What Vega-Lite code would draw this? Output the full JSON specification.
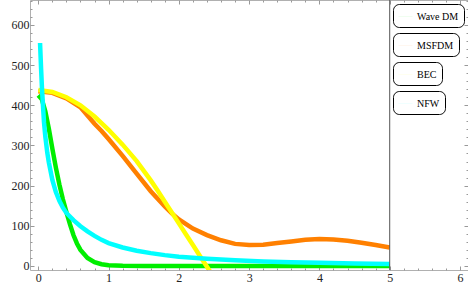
{
  "$schema": "https://vega.github.io/schema/vega-lite/v6.json",
  "width": 438,
  "height": 270,
  "autosize": "none",
  "padding": {"left": 30, "top": 0, "right": 0, "bottom": 25},
  "background": "white",
  "config": {
    "view": {"stroke": "#b0b0b0", "strokeWidth": 1},
    "axis": {"domain": false, "grid": false, "labelFont": "Liberation Serif", "labelFontSize": 12, "labelColor": "#222", "tickColor": "#999", "title": null, "labelOverlap": false},
    "legend": {"orient": "none", "legendX": 363, "title": null, "strokeColor": "black", "cornerRadius": 6, "padding": 5, "fillColor": "white", "symbolType": "stroke", "symbolSize": 196, "symbolStrokeWidth": 0.6, "symbolOpacity": 0.3, "labelFont": "Liberation Serif", "labelFontSize": 10, "labelColor": "black", "labelOffset": 4}
  },
  "datasets": {
    "wave": [
      {"x": 0, "y": 425}, {"x": 0.05, "y": 415}, {"x": 0.1, "y": 385}, {"x": 0.15, "y": 342}, {"x": 0.2, "y": 292}, {"x": 0.25, "y": 245}, {"x": 0.3, "y": 203}, {"x": 0.35, "y": 166}, {"x": 0.4, "y": 134}, {"x": 0.45, "y": 104}, {"x": 0.5, "y": 77}, {"x": 0.55, "y": 56}, {"x": 0.6, "y": 40}, {"x": 0.7, "y": 20}, {"x": 0.8, "y": 9.5}, {"x": 0.9, "y": 4.4}, {"x": 1.0, "y": 2}, {"x": 1.2, "y": 0.4}, {"x": 1.5, "y": 0.1}, {"x": 2, "y": 0}, {"x": 3, "y": 0}, {"x": 4, "y": 0}, {"x": 5, "y": 0}
    ],
    "msfdm": [
      {"x": 0, "y": 435}, {"x": 0.2, "y": 431}, {"x": 0.4, "y": 417}, {"x": 0.6, "y": 395}, {"x": 0.8, "y": 354}, {"x": 0.9, "y": 336}, {"x": 1.0, "y": 316}, {"x": 1.2, "y": 274}, {"x": 1.4, "y": 230}, {"x": 1.6, "y": 186}, {"x": 1.8, "y": 148}, {"x": 1.9, "y": 131}, {"x": 2.0, "y": 116}, {"x": 2.2, "y": 93}, {"x": 2.4, "y": 77}, {"x": 2.6, "y": 64}, {"x": 2.8, "y": 55}, {"x": 3.0, "y": 52}, {"x": 3.2, "y": 53}, {"x": 3.4, "y": 57}, {"x": 3.6, "y": 61}, {"x": 3.8, "y": 65}, {"x": 4.0, "y": 67}, {"x": 4.2, "y": 66}, {"x": 4.4, "y": 63}, {"x": 4.6, "y": 58}, {"x": 4.8, "y": 52}, {"x": 5.0, "y": 46}
    ],
    "bec": [
      {"x": 0, "y": 438}, {"x": 0.2, "y": 433}, {"x": 0.4, "y": 420}, {"x": 0.6, "y": 400}, {"x": 0.8, "y": 372}, {"x": 1.0, "y": 339}, {"x": 1.2, "y": 302}, {"x": 1.4, "y": 261}, {"x": 1.6, "y": 213}, {"x": 1.7, "y": 187}, {"x": 1.8, "y": 160}, {"x": 1.9, "y": 133}, {"x": 2.0, "y": 106}, {"x": 2.1, "y": 79}, {"x": 2.2, "y": 52}, {"x": 2.3, "y": 25}, {"x": 2.4, "y": -2}, {"x": 2.5, "y": -29}
    ],
    "nfw": [
      {"x": 0.025, "y": 555}, {"x": 0.04, "y": 490}, {"x": 0.053, "y": 440}, {"x": 0.07, "y": 390}, {"x": 0.081, "y": 358}, {"x": 0.1, "y": 322}, {"x": 0.128, "y": 282}, {"x": 0.15, "y": 258}, {"x": 0.2, "y": 214}, {"x": 0.25, "y": 184}, {"x": 0.3, "y": 162}, {"x": 0.35, "y": 145}, {"x": 0.4, "y": 132}, {"x": 0.5, "y": 114}, {"x": 0.6, "y": 99}, {"x": 0.7, "y": 86}, {"x": 0.8, "y": 75}, {"x": 0.9, "y": 65}, {"x": 1.0, "y": 57}, {"x": 1.2, "y": 46}, {"x": 1.4, "y": 38}, {"x": 1.6, "y": 32}, {"x": 1.8, "y": 27}, {"x": 2.0, "y": 23}, {"x": 2.4, "y": 18}, {"x": 2.8, "y": 14}, {"x": 3.2, "y": 11}, {"x": 3.6, "y": 9}, {"x": 4.0, "y": 8}, {"x": 4.5, "y": 6}, {"x": 5.0, "y": 5}
    ]
  },
  "resolve": {"scale": {"color": "independent"}, "axis": {"x": "independent", "y": "independent"}},
  "layer": [
    {
      "data": {"name": "wave"},
      "mark": {"type": "line", "strokeWidth": 4.5, "clip": true, "strokeCap": "butt"},
      "encoding": {
        "x": {"field": "x", "type": "quantitative", "scale": {"domain": [-0.118, 6.114], "nice": false, "zero": false},
          "axis": {"orient": "bottom", "values": [0,0.2,0.4,0.6,0.8,1,1.2,1.4,1.6,1.8,2,2.2,2.4,2.6,2.8,3,3.2,3.4,3.6,3.8,4,4.2,4.4,4.6,4.8,5,5.2,5.4,5.6,5.8,6],
            "labelExpr": "datum.value % 1 === 0 ? format(datum.value, 'd') : ''",
            "tickSize": {"condition": {"test": "datum.value % 1 === 0", "value": -4}, "value": -2},
            "labelPadding": 6}},
        "y": {"field": "y", "type": "quantitative", "scale": {"domain": [-10, 662], "nice": false, "zero": false},
          "axis": {"orient": "left", "values": [0,20,40,60,80,100,120,140,160,180,200,220,240,260,280,300,320,340,360,380,400,420,440,460,480,500,520,540,560,580,600,620,640,660],
            "labelExpr": "datum.value % 100 === 0 ? format(datum.value, 'd') : ''",
            "tickSize": {"condition": {"test": "datum.value % 100 === 0", "value": -4}, "value": -2},
            "labelPadding": 5}},
        "color": {"datum": "Wave DM", "type": "nominal", "scale": {"range": ["#00ee00"]}, "legend": {"legendY": 4, "encode": {"symbols": {"update": {"strokeOpacity": {"value": 0.3}, "strokeWidth": {"value": 0.6}}}}}}
      }
    },
    {
      "data": {"name": "msfdm"},
      "mark": {"type": "line", "strokeWidth": 4.5, "clip": true, "strokeCap": "butt"},
      "encoding": {
        "x": {"field": "x", "type": "quantitative",
          "axis": {"orient": "top", "values": [0,0.2,0.4,0.6,0.8,1,1.2,1.4,1.6,1.8,2,2.2,2.4,2.6,2.8,3,3.2,3.4,3.6,3.8,4,4.2,4.4,4.6,4.8,5,5.2,5.4,5.6,5.8,6], "labels": false,
            "tickSize": {"condition": {"test": "datum.value % 1 === 0", "value": -4}, "value": -2}}},
        "y": {"field": "y", "type": "quantitative",
          "axis": {"orient": "right", "values": [0,20,40,60,80,100,120,140,160,180,200,220,240,260,280,300,320,340,360,380,400,420,440,460,480,500,520,540,560,580,600,620,640,660], "labels": false,
            "tickSize": {"condition": {"test": "datum.value % 100 === 0", "value": -4}, "value": -2}}},
        "color": {"datum": "MSFDM", "type": "nominal", "scale": {"range": ["#ff8000"]}, "legend": {"legendY": 33, "encode": {"symbols": {"update": {"strokeOpacity": {"value": 0.3}, "strokeWidth": {"value": 0.6}}}}}}
      }
    },
    {
      "data": {"name": "bec"},
      "mark": {"type": "line", "strokeWidth": 4.5, "clip": true, "strokeCap": "butt"},
      "encoding": {
        "x": {"field": "x", "type": "quantitative", "axis": null},
        "y": {"field": "y", "type": "quantitative", "axis": null},
        "color": {"datum": "BEC", "type": "nominal", "scale": {"range": ["#ffff00"]}, "legend": {"legendY": 62, "encode": {"symbols": {"update": {"strokeOpacity": {"value": 0.3}, "strokeWidth": {"value": 0.6}}}}}}
      }
    },
    {
      "data": {"name": "nfw"},
      "mark": {"type": "line", "strokeWidth": 4.5, "clip": true, "strokeCap": "butt"},
      "encoding": {
        "x": {"field": "x", "type": "quantitative", "axis": null},
        "y": {"field": "y", "type": "quantitative", "axis": null},
        "color": {"datum": "NFW", "type": "nominal", "scale": {"range": ["#00ffff"]}, "legend": {"legendY": 91, "encode": {"symbols": {"update": {"strokeOpacity": {"value": 0.3}, "strokeWidth": {"value": 0.6}}}}}}
      }
    },
    {
      "data": {"values": [{}]},
      "mark": {"type": "rule", "color": "#555555", "strokeWidth": 1},
      "encoding": {"x": {"datum": 5, "type": "quantitative", "axis": null}}
    }
  ]
}
